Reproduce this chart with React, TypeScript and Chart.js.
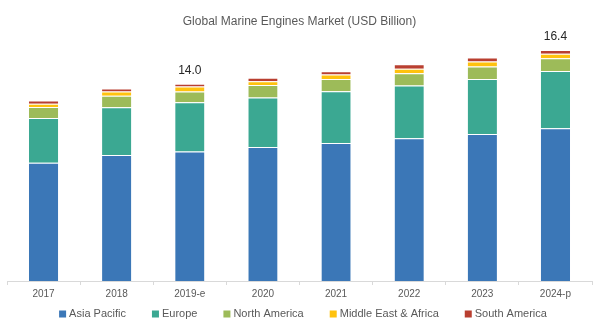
import React, { useEffect, useRef } from "react";
import { Chart, registerables } from "chart.js";

Chart.register(...registerables);

const categories = ["2017", "2018", "2019-e", "2020", "2021", "2022", "2023", "2024-p"];
const asiaPacific = [8.4, 8.95, 9.2, 9.52, 9.8, 10.13, 10.44, 10.85];
const europe = [3.18, 3.39, 3.5, 3.51, 3.67, 3.75, 3.91, 4.06];
const northAmerica = [0.78, 0.81, 0.75, 0.88, 0.88, 0.88, 0.88, 0.9];
const middleEastAfrica = [0.23, 0.31, 0.36, 0.28, 0.31, 0.31, 0.36, 0.33];
const southAmerica = [0.23, 0.21, 0.19, 0.24, 0.23, 0.33, 0.28, 0.26];
const totalLabels = ["", "", "14.0", "", "", "", "", "16.4"];

const FONT = "'Liberation Sans', Arial, sans-serif";

const totalLabelPlugin = {
  id: "totalLabels",
  afterDatasetsDraw(chart: any) {
    const ctx = chart.ctx;
    const n = chart.data.datasets.length;
    const lastMeta = chart.getDatasetMeta(n - 1);
    ctx.save();
    ctx.font = `12px ${FONT}`;
    ctx.fillStyle = "#262626";
    ctx.textAlign = "center";
    ctx.textBaseline = "middle";
    lastMeta.data.forEach((bar: any, i: number) => {
      const t = totalLabels[i];
      if (t) ctx.fillText(t, bar.x, bar.y - 13);
    });
    ctx.restore();
  },
};

const bottomLegendPlugin = {
  id: "bottomLegend",
  afterDraw(chart: any) {
    const ctx = chart.ctx;
    const ds = chart.data.datasets;
    const box = 7;
    const boxGap = 3;
    const itemGap = 26;
    const y = 314;
    ctx.save();
    ctx.font = `11px ${FONT}`;
    const widths = ds.map((d: any) => box + boxGap + ctx.measureText(d.label).width);
    const total = widths.reduce((a: number, b: number) => a + b, 0) + itemGap * (ds.length - 1);
    let x = (chart.width - total) / 2;
    ds.forEach((d: any, i: number) => {
      ctx.fillStyle = d.backgroundColor;
      ctx.fillRect(x, y - box / 2, box, box);
      ctx.fillStyle = "#595959";
      ctx.textAlign = "left";
      ctx.textBaseline = "middle";
      ctx.fillText(d.label, x + box + boxGap, y);
      x += widths[i] + itemGap;
    });
    ctx.restore();
  },
};

export default function App() {
  const ref = useRef<HTMLCanvasElement | null>(null);
  useEffect(() => {
    document.body.style.margin = "0";
    if (!ref.current) return;
    const mk = (label: string, data: number[], color: string) => ({
      label,
      data,
      backgroundColor: color,
      borderColor: "rgba(255,255,255,0.35)",
      borderWidth: { top: 1, bottom: 0, left: 0, right: 0 },
      borderSkipped: false,
      categoryPercentage: 1,
      barPercentage: 0.4,
    });
    const chart = new Chart(ref.current, {
      type: "bar",
      data: {
        labels: categories,
        datasets: [
          mk("Asia Pacific", asiaPacific, "#3b77b7"),
          mk("Europe", europe, "#3ba892"),
          mk("North America", northAmerica, "#9dbb59"),
          mk("Middle East & Africa", middleEastAfrica, "#ffc20e"),
          mk("South America", southAmerica, "#b93f30"),
        ],
      },
      options: {
        animation: false,
        responsive: false,
        maintainAspectRatio: false,
        layout: { padding: { left: 7, right: 14, top: 0, bottom: 27 } },
        plugins: {
          title: {
            display: true,
            text: "Global Marine Engines Market (USD Billion)",
            color: "#595959",
            font: { family: FONT, size: 12, weight: "normal" },
            padding: { top: 14, bottom: 8 },
          },
          legend: { display: false },
          tooltip: { enabled: false },
        },
        scales: {
          x: {
            stacked: true,
            grid: {
              display: true,
              drawOnChartArea: false,
              drawTicks: true,
              tickLength: 4,
              color: "#d9d9d9",
              offset: true,
            },
            border: { display: true, color: "#d9d9d9" },
            ticks: {
              color: "#595959",
              font: { family: FONT, size: 10 },
              padding: 3,
            },
          },
          y: {
            stacked: true,
            display: false,
            min: 0,
            max: 17.37,
          },
        },
      },
      plugins: [totalLabelPlugin, bottomLegendPlugin],
    });
    return () => chart.destroy();
  }, []);
  return <canvas ref={ref} width={606} height={330} style={{ display: "block" }} />;
}
